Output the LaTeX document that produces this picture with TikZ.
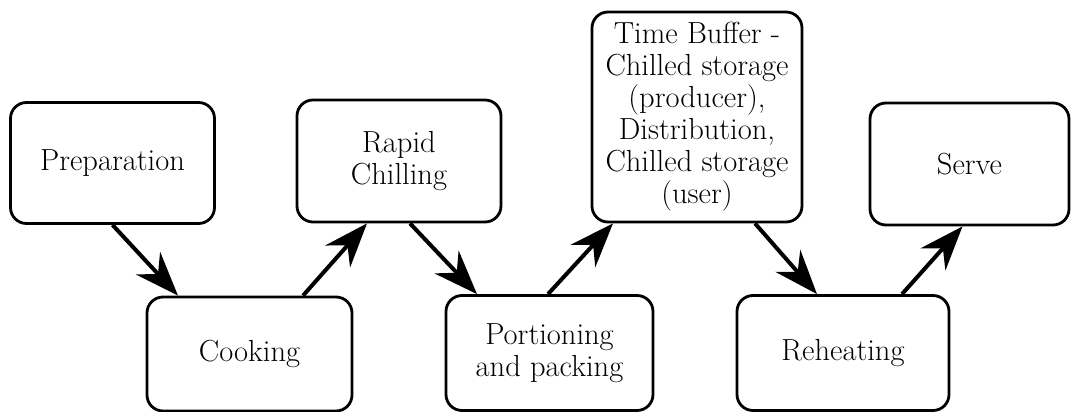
\documentclass[tikz,border=0pt]{standalone}
\usetikzlibrary{arrows.meta}
\begin{document}
\begin{tikzpicture}[x=1pt,y=-1pt,
  stage/.style={draw, line width=2.8pt, rounded corners=16pt, align=center,
    inner sep=2pt, font=\fontsize{30.5}{32}\selectfont},
  flow/.style={line width=4pt, -{Stealth[scale=2.1,inset=7pt]}}]
\useasboundingbox (0,0) rectangle (1072,412);
\node[stage, minimum width=204pt, minimum height=121pt] (prep) at (112.5,163) {Preparation};
\node[stage, minimum width=205pt, minimum height=114pt] (cook) at (249.5,354) {Cooking};
\node[stage, minimum width=204pt, minimum height=122pt] (rapid) at (399,161) {Rapid\\Chilling};
\node[stage, minimum width=207pt, minimum height=115pt] (port) at (549.5,353) {Portioning\\and packing};
\node[stage, minimum width=210pt, minimum height=210pt] (time) at (697,117)
  {Time Buffer -\\Chilled storage\\(producer),\\Distribution,\\Chilled storage\\(user)};
\node[stage, minimum width=212pt, minimum height=115pt] (reh) at (843,353) {Reheating};
\node[stage, minimum width=199pt, minimum height=122pt] (serve) at (969.5,164) {Serve};
\draw[flow] (prep.south) -- ([xshift=-71.5pt]cook.north);
\draw[flow] ([xshift=53.5pt]cook.north) -- ([xshift=-32pt]rapid.south);
\draw[flow] ([xshift=11pt]rapid.south) -- ([xshift=-72.5pt]port.north);
\draw[flow] ([xshift=-1.5pt]port.north) -- ([xshift=-84pt]time.south);
\draw[flow] ([xshift=58pt]time.south) -- ([xshift=-26pt]reh.north);
\draw[flow] ([xshift=59pt]reh.north) -- ([xshift=-7pt]serve.south);
\end{tikzpicture}
\end{document}
